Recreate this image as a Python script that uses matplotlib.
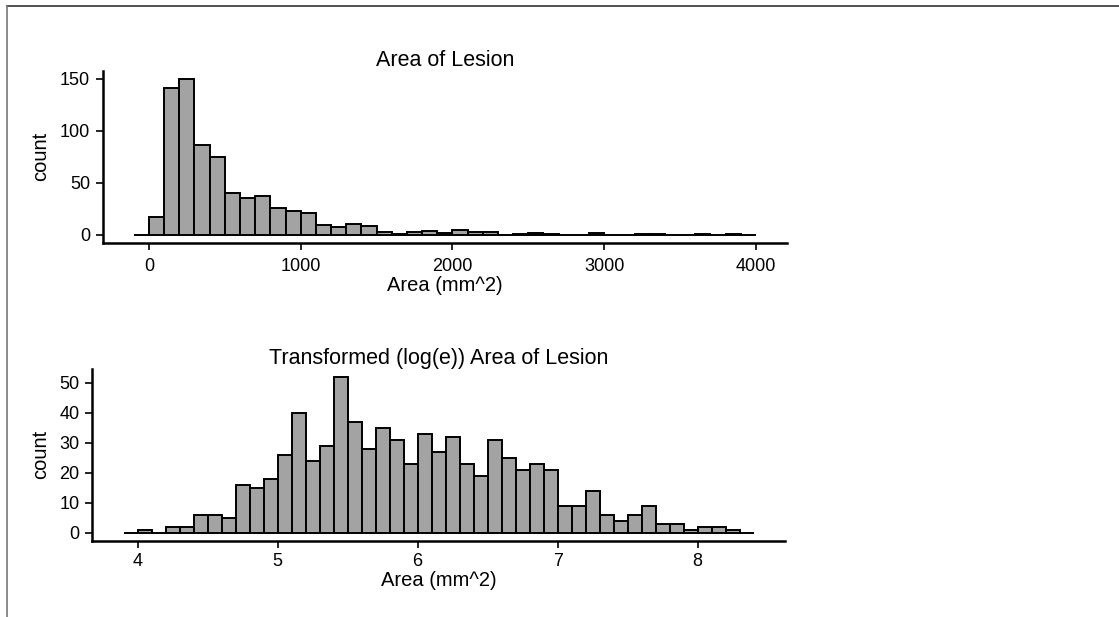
import numpy as np
import matplotlib
matplotlib.use("Agg")
import matplotlib.pyplot as plt
from matplotlib.lines import Line2D

plt.rcParams['font.family'] = ['Liberation Sans', 'DejaVu Sans']

# ---- data ----
area_bin_start = -100
area_bin_width = 100
area_counts = [0, 17, 141, 150, 86, 75, 40, 35, 37, 26, 23, 21, 9, 7, 10, 8, 3, 1, 3, 4,
               2, 5, 3, 3, 0, 1, 2, 1, 0, 0, 2, 0, 0, 1, 1, 0, 0, 1, 0, 1, 0]
area_xticks = [0, 1000, 2000, 3000, 4000]
area_yticks = [0, 50, 100, 150]

log_bin_start = 3.9
log_bin_width = 0.1
log_counts = [0, 1, 0, 2, 2, 6, 6, 5, 16, 15, 18, 26, 40, 24, 29, 52, 37, 28, 35, 31,
              23, 33, 27, 32, 23, 19, 31, 25, 21, 23, 21, 9, 9, 14, 6, 4, 6, 9, 3, 3,
              1, 2, 2, 1, 0]
log_xticks = [4, 5, 6, 7, 8]
log_yticks = [0, 10, 20, 30, 40, 50]

W, H = 1119, 617
fig = plt.figure(figsize=(W / 100, H / 100), dpi=100)

def px_rect(l, r, b, t):
    return [l / W, 1 - b / H, (r - l) / W, (b - t) / H]

def hist_panel(rect, start, width, counts, xticks, yticks, title, xpad):
    ax = fig.add_axes(rect)
    n = len(counts)
    lefts = start + width * np.arange(n)
    ax.bar(lefts, counts, width=width, align='edge', color='#A3A3A3',
           edgecolor='black', linewidth=1.4)
    lo, hi = start, start + width * n
    ex = (hi - lo) * 0.05
    ax.set_xlim(lo - ex, hi + ex)
    ymax = max(counts)
    ax.set_ylim(-ymax * 0.05, ymax * 1.05)
    ax.set_xticks(xticks)
    ax.set_yticks(yticks)
    for s in ['top', 'right']:
        ax.spines[s].set_visible(False)
    for s in ['left', 'bottom']:
        ax.spines[s].set_linewidth(1.8)
    ax.tick_params(axis='both', direction='out', length=5, width=1.2,
                   labelsize=13, colors='black')
    ax.tick_params(axis='x', pad=xpad)
    ax.tick_params(axis='y', pad=4)
    ax.set_title(title, fontsize=15.5, pad=3)
    ax.set_xlabel('Area (mm^2)', fontsize=14.5, labelpad=1)
    ax.set_ylabel('count', fontsize=14.5)
    return ax

ax1 = hist_panel(px_rect(102.7, 787, 242.5, 70.9), area_bin_start, area_bin_width,
                 area_counts, area_xticks, area_yticks, 'Area of Lesion', 6)
ax2 = hist_panel(px_rect(92.2, 785, 540.5, 368.9), log_bin_start, log_bin_width,
                 log_counts, log_xticks, log_yticks, 'Transformed (log(e)) Area of Lesion', 4)
ax1.yaxis.set_label_coords(-52.7 / (787 - 102.7), 0.5)
ax2.yaxis.set_label_coords(-42.2 / (785 - 92.2), 0.5)

# frame lines of the cropped screenshot
fig.add_artist(Line2D([7 / W, 1], [1 - 5.5 / H, 1 - 5.5 / H], color='#333333', linewidth=1.2))
fig.add_artist(Line2D([6.5 / W, 6.5 / W], [0, 1 - 5.5 / H], color='#777777', linewidth=1.2))

fig.savefig('out.png', dpi=100)
